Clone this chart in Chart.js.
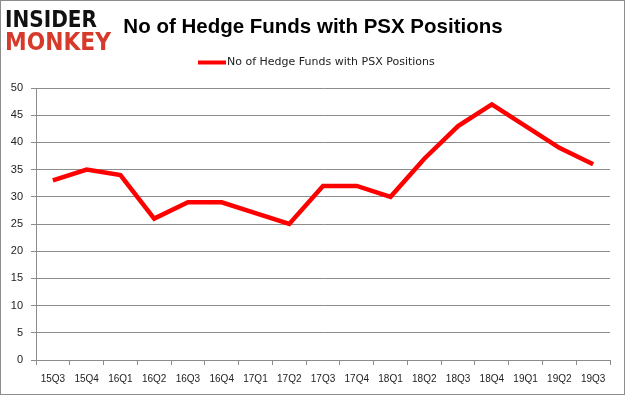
<!DOCTYPE html>
<html>
<head>
<meta charset="utf-8">
<script src="https://cdn.jsdelivr.net/npm/chart.js@4.4.0/dist/chart.umd.min.js"></script>
<style>
  html, body { margin: 0; padding: 0; background: #fff; }
  #wrap { position: relative; width: 625px; height: 395px; }
  canvas { display: block; }
</style>
</head>
<body>
<div id="wrap"><canvas id="c" width="625" height="395"></canvas></div>
<script>
const categories = ["15Q3","15Q4","16Q1","16Q2","16Q3","16Q4","17Q1","17Q2","17Q3","17Q4","18Q1","18Q2","18Q3","18Q4","19Q1","19Q2","19Q3"];
const hedgeFunds = [33, 35, 34, 26, 29, 29, 27, 25, 32, 32, 30, 37, 43, 47, 43, 39, 36];
const seriesName = "No of Hedge Funds with PSX Positions";
const chartTitle = "No of Hedge Funds with PSX Positions";
const logoTop = "INSIDER";
const logoBottom = "MONKEY";

const decor = {
  id: 'decor',
  beforeDraw(chart) {
    const ctx = chart.ctx;
    ctx.save();
    ctx.fillStyle = '#fff';
    ctx.fillRect(0, 0, chart.width, chart.height);
    ctx.restore();
  },
  afterDraw(chart) {
    const ctx = chart.ctx;
    ctx.save();
    // border
    ctx.strokeStyle = '#8c8c8c';
    ctx.lineWidth = 1;
    ctx.strokeRect(0.5, 0.5, chart.width - 1, chart.height - 1);
    // logo
    function fitText(txt, x, yTop, w, h, color) {
      ctx.font = 'bold 40px "DejaVu Sans"';
      const m = ctx.measureText(txt);
      const tw = m.width;
      const th = m.actualBoundingBoxAscent;
      ctx.save();
      ctx.translate(x, yTop);
      ctx.scale(w / tw, h / th);
      ctx.fillStyle = color;
      ctx.textBaseline = 'alphabetic';
      ctx.textAlign = 'left';
      ctx.fillText(txt, 0, th);
      ctx.restore();
    }
    fitText(logoTop, 5, 9, 92, 18, '#111');
    fitText(logoBottom, 5, 31, 106, 19, '#d63a2a');
    // title
    ctx.font = 'bold 20.5px "Liberation Sans"';
    ctx.fillStyle = '#000';
    ctx.textAlign = 'center';
    ctx.textBaseline = 'middle';
    ctx.fillText(chartTitle, 313, 27);
    // legend
    ctx.font = '11px "DejaVu Sans"';
    ctx.textAlign = 'left';
    ctx.fillStyle = '#222';
    ctx.fillText(seriesName, 227, 62);
    ctx.strokeStyle = '#ff0000';
    ctx.lineWidth = 4;
    ctx.beginPath();
    ctx.moveTo(198, 62.5);
    ctx.lineTo(226, 62.5);
    ctx.stroke();
    ctx.restore();
  }
};

new Chart(document.getElementById('c'), {
  type: 'line',
  data: {
    labels: categories,
    datasets: [{
      label: seriesName,
      data: hedgeFunds,
      borderColor: '#ff0000',
      backgroundColor: '#ff0000',
      borderWidth: 4.5,
      pointRadius: 0,
      tension: 0,
      fill: false
    }]
  },
  options: {
    responsive: false,
    animation: false,
    devicePixelRatio: 1,
    layout: { padding: { top: 88, left: 0, right: 15, bottom: 0 } },
    plugins: {
      legend: { display: false },
      title: { display: false },
      tooltip: { enabled: false }
    },
    scales: {
      x: {
        offset: true,
        grid: {
          display: true,
          offset: true,
          drawOnChartArea: false,
          drawTicks: true,
          tickLength: 5,
          color: '#8c8c8c'
        },
        border: { display: true, color: '#8c8c8c', width: 1 },
        ticks: {
          color: '#222',
          font: { family: 'Liberation Sans', size: 10 },
          maxRotation: 0,
          autoSkip: false,
          padding: 8
        },
        afterFit(scale) { scale.height = 35; }
      },
      y: {
        min: 0,
        max: 50,
        ticks: {
          stepSize: 5,
          color: '#222',
          font: { family: 'Liberation Sans', size: 11 },
          padding: 8
        },
        grid: {
          color: '#8c8c8c',
          tickLength: 5,
          drawTicks: true
        },
        border: { display: true, color: '#8c8c8c', width: 1 },
        afterFit(scale) { scale.width = 36; }
      }
    }
  },
  plugins: [decor]
});
</script>
</body>
</html>
